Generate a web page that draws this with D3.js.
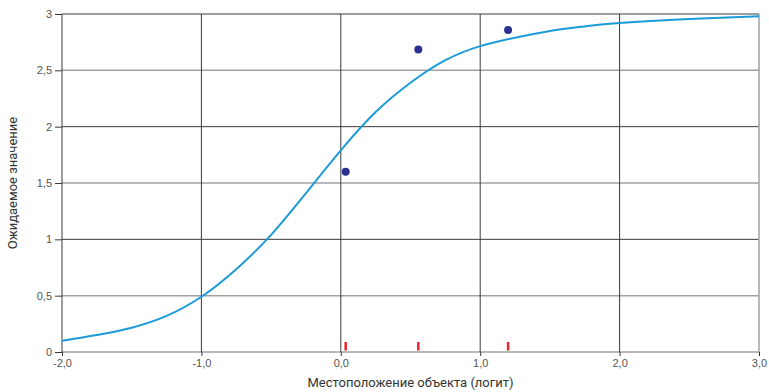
<!DOCTYPE html>
<html lang="ru">
  <head>
    <meta charset="UTF-8" />
    <title>Ожидаемое значение</title>
    <script src="https://cdn.jsdelivr.net/npm/d3@7"></script>
    <style>
      body { margin: 0; background: #fff; }
      svg { display: block; font-family: Roboto, "Liberation Sans", sans-serif; }
    </style>
  </head>
  <body>
    <svg width="769" height="392"></svg>
    <script>
      // expected score curve
      const curveTheta = [-2, -1.75, -1.5, -1.25, -1, -0.75, -0.5, -0.25, 0, 0.25, 0.5, 0.75, 1, 1.25, 1.5, 1.75, 2, 2.5, 3];
      const curveValue = [0.10, 0.15, 0.215, 0.32, 0.49, 0.735, 1.04, 1.41, 1.79, 2.13, 2.39, 2.59, 2.715, 2.79, 2.85, 2.89, 2.92, 2.955, 2.98];
      // observed class means
      const obsTheta = [0.035, 0.556, 1.2];
      const obsValue = [1.6, 2.686, 2.857];
      const xTicks = [-2, -1, 0, 1, 2, 3];
      const yTicks = [0, 0.5, 1, 1.5, 2, 2.5, 3];

      const margin = { top: 14, right: 10, bottom: 40, left: 62 };
      const W = 769, H = 392;
      const svg = d3.select("svg");

      const x = d3.scaleLinear().domain([-2, 3]).range([margin.left, W - margin.right]);
      const y = d3.scaleLinear().domain([0, 3]).range([H - margin.bottom, margin.top]);

      const comma = (s) => s.replace(".", ",");

      // horizontal grid: whole numbers dark, halves grey
      svg.append("g")
        .selectAll("line")
        .data(yTicks)
        .enter()
        .append("line")
        .attr("x1", margin.left).attr("x2", W - margin.right)
        .attr("y1", (d) => y(d)).attr("y2", (d) => y(d))
        .attr("stroke", (d) => (d % 1 === 0 && d !== 0 ? "#3a3a3a" : "#a0a0a0"))
        .attr("stroke-width", (d) => (d % 1 === 0 && d !== 0 ? 1 : 1.5));

      // vertical grid
      svg.append("g")
        .selectAll("line")
        .data(xTicks)
        .enter()
        .append("line")
        .attr("y1", margin.top).attr("y2", H - margin.bottom)
        .attr("x1", (d) => x(d)).attr("x2", (d) => x(d))
        .attr("stroke", (d) => (d === 3 ? "#a0a0a0" : "#3a3a3a"))
        .attr("stroke-width", (d) => (d === 3 ? 1.5 : 1));

      // axes
      const xAxis = svg.append("g")
        .attr("transform", `translate(0,${H - margin.bottom})`)
        .call(d3.axisBottom(x).tickValues(xTicks).tickSize(4).tickPadding(3)
          .tickFormat((d) => comma(d3.format(".1f")(d)).replace("−", "-")));
      const yAxis = svg.append("g")
        .attr("transform", `translate(${margin.left},0)`)
        .call(d3.axisLeft(y).tickValues(yTicks).tickSize(7).tickPadding(3)
          .tickFormat((d) => comma(String(d))));
      [xAxis, yAxis].forEach((g) => {
        g.select(".domain").remove();
        g.selectAll(".tick line").attr("stroke", "#3a3a3a");
        g.selectAll("text").attr("fill", "#555").style("font-size", "11px");
      });

      // red markers along the bottom
      svg.append("g")
        .selectAll("rect")
        .data(obsTheta)
        .enter()
        .append("rect")
        .attr("x", (d) => x(d) - 1.25)
        .attr("y", y(0) - 10)
        .attr("width", 2.5)
        .attr("height", 8.5)
        .attr("fill", "#e8262b");

      // model curve
      const line = d3.line()
        .x((d, i) => x(curveTheta[i]))
        .y((d) => y(d))
        .curve(d3.curveNatural);
      svg.append("path")
        .datum(curveValue)
        .attr("d", line)
        .attr("fill", "none")
        .attr("stroke", "#1b9bd7")
        .attr("stroke-width", 2);

      // observed points
      svg.append("g")
        .selectAll("circle")
        .data(obsValue)
        .enter()
        .append("circle")
        .attr("cx", (d, i) => x(obsTheta[i]))
        .attr("cy", (d) => y(d))
        .attr("r", 4)
        .attr("fill", "#2b3190");

      // titles
      svg.append("text")
        .attr("x", (margin.left + W - margin.right) / 2)
        .attr("y", 387)
        .attr("text-anchor", "middle")
        .attr("fill", "#333")
        .style("font-size", "13px")
        .text("Местоположение объекта (логит)");
      svg.append("text")
        .attr("transform", `translate(17,${(margin.top + H - margin.bottom) / 2}) rotate(-90)`)
        .attr("text-anchor", "middle")
        .attr("fill", "#333")
        .style("font-size", "13px")
        .text("Ожидаемое значение");
    </script>
  </body>
</html>
